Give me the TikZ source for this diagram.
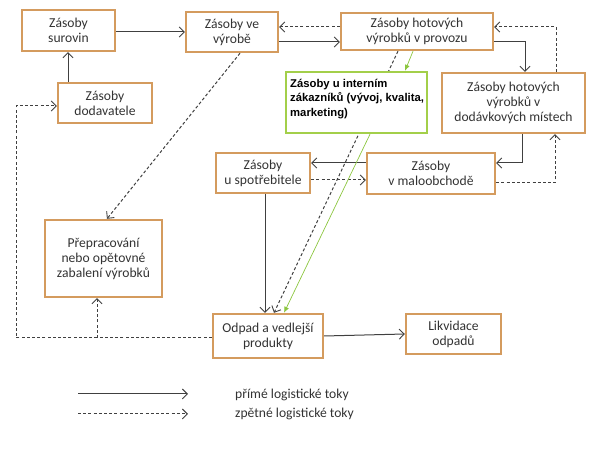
\documentclass[tikz,border=0pt]{standalone}
\usepackage{fontspec}
\setmainfont{Carlito}
\newfontfamily\arialfont{Liberation Sans}
\usetikzlibrary{arrows.meta,calc}
\definecolor{boxorange}{HTML}{D49B5E}
\definecolor{boxgreen}{HTML}{A3CF4A}
\definecolor{linegray}{HTML}{404040}
\definecolor{txtgray}{HTML}{333333}
\definecolor{arrgreen}{HTML}{8CC63F}
\tikzset{
  box/.style={draw=boxorange,line width=2.4pt,fill=white,align=center,inner sep=0pt,
    text=txtgray,font=\fontsize{13.6}{15}\selectfont},
  gbox/.style={draw=boxgreen,line width=2.4pt,fill=white,inner sep=0pt},
  direct/.style={draw=linegray,line width=1pt,-{Straight Barb[length=5pt,width=10pt,line width=0.9pt]}},
  back/.style={draw=linegray,line width=1pt,dash pattern=on 3pt off 2.2pt,-{Straight Barb[length=5pt,width=10pt,line width=0.9pt]}},
  garrow/.style={draw=arrgreen,line width=0.7pt,-{Latex[length=6pt,width=5pt]}},
  legtext/.style={anchor=west,inner sep=0pt,text=txtgray,font=\fontsize{13.6}{15}\selectfont}
}
\begin{document}
\begin{tikzpicture}[x=1pt,y=-1pt]
\useasboundingbox (0,0) rectangle (590,462);
% boxes
\node[box,minimum width=93pt,minimum height=41pt] (sur) at (68.5,30.5) {Zásoby\\surovin};
\node[box,minimum width=92pt,minimum height=40pt] (vyr) at (232,32) {Zásoby ve\\výrobě};
\node[box,minimum width=152pt,minimum height=37pt] (prov) at (417,31.5) {Zásoby hotových\\výrobků v provozu};
\node[box,minimum width=94pt,minimum height=40pt] (dod) at (105,103) {Zásoby\\dodavatele};
\node[box,minimum width=143pt,minimum height=60pt] (mist) at (513.5,103) {Zásoby hotových\\výrobků v\\dodávkových místech};
\node[box,minimum width=94pt,minimum height=40pt] (spot) at (263,173) {Zásoby\\u spotřebitele};
\node[box,minimum width=128pt,minimum height=41pt] (malo) at (431,173.5) {Zásoby\\v maloobchodě};
\node[box,minimum width=117pt,minimum height=77pt] (prep) at (103.5,258.5) {Přepracování\\nebo opětovné\\zabalení výrobků};
\node[box,minimum width=110pt,minimum height=44pt] (odp) at (268,336) {Odpad a vedlejší\\produkty};
\node[box,minimum width=95pt,minimum height=40pt] (lik) at (453.5,334) {Likvidace\\odpadů};
% connectors
\draw[direct] (sur.east |- 0,32) -- (vyr.west |- 0,32);
\draw[direct] ([xshift=-37pt]dod.north) -- ([xshift=-37pt]dod.north |- sur.south);
\draw[direct] ([yshift=-10pt]vyr.east) -- ([yshift=-10pt]vyr.east -| prov.west);
\draw[back] ([yshift=4.5pt]prov.west) -- ([yshift=4.5pt]prov.west -| vyr.east);
\draw[direct] ([yshift=-10.5pt]prov.east) -| ([xshift=11.5pt]mist.north);
\draw[back] ([xshift=42.5pt]mist.north) |- ([yshift=4.5pt]prov.east);
\draw[direct] ([xshift=8.5pt]mist.south) |- ([yshift=10.5pt]malo.east);
\draw[back] ([yshift=-9.5pt]malo.east) -| ([xshift=41.5pt]mist.south);
\draw[direct] ([yshift=10.5pt]malo.west) -- ([yshift=10.5pt]malo.west -| spot.east);
\draw[back] ([yshift=-7pt]spot.east) -- ([yshift=-7pt]spot.east -| malo.west);
\draw[direct] ([xshift=2pt]spot.south) -- ([xshift=2pt]spot.south |- odp.north);
\draw[back] ([xshift=8pt]vyr.south) -- ([xshift=3.5pt]prep.north);
\draw[back] ([xshift=-19pt]prov.south) -- ([xshift=6pt]odp.north);
\draw[direct] (odp.east) -- (lik.west);
\coordinate (lc) at (16,338);
\coordinate (br) at (97,338);
\draw[back] ([yshift=-2pt]odp.west) -- (lc) |- ([yshift=-3pt]dod.west);
\draw[back] (br) -- (br |- prep.south);
% green box
\node[gbox,minimum width=141pt,minimum height=61pt] (green) at (356.5,102.5) {};
\node[anchor=north west,inner sep=0pt,align=left,text=black,
  font=\arialfont\bfseries\fontsize{11.3}{14.5}\selectfont] (gtext) at (290,79)
  {Zásoby u interním\\zákazníků (vývoj, kvalita,\\marketing)};
\draw[garrow] ([xshift=-4pt]prov.south) -- ([xshift=48.5pt]green.north);
\draw[garrow] ([xshift=13.5pt]green.south) -- ([xshift=16pt]odp.north);
% legend
\coordinate (l1a) at (78,394);
\coordinate (l1b) at (188,394);
\coordinate (l2a) at (78,414);
\coordinate (l2b) at (188,414);
\draw[direct] (l1a) -- (l1b);
\draw[back] (l2a) -- (l2b);
\node[legtext] (t1) at (235,395) {přímé logistické toky};
\node[legtext] (t2) at (235,414) {zpětné logistické toky};
\end{tikzpicture}
\end{document}
